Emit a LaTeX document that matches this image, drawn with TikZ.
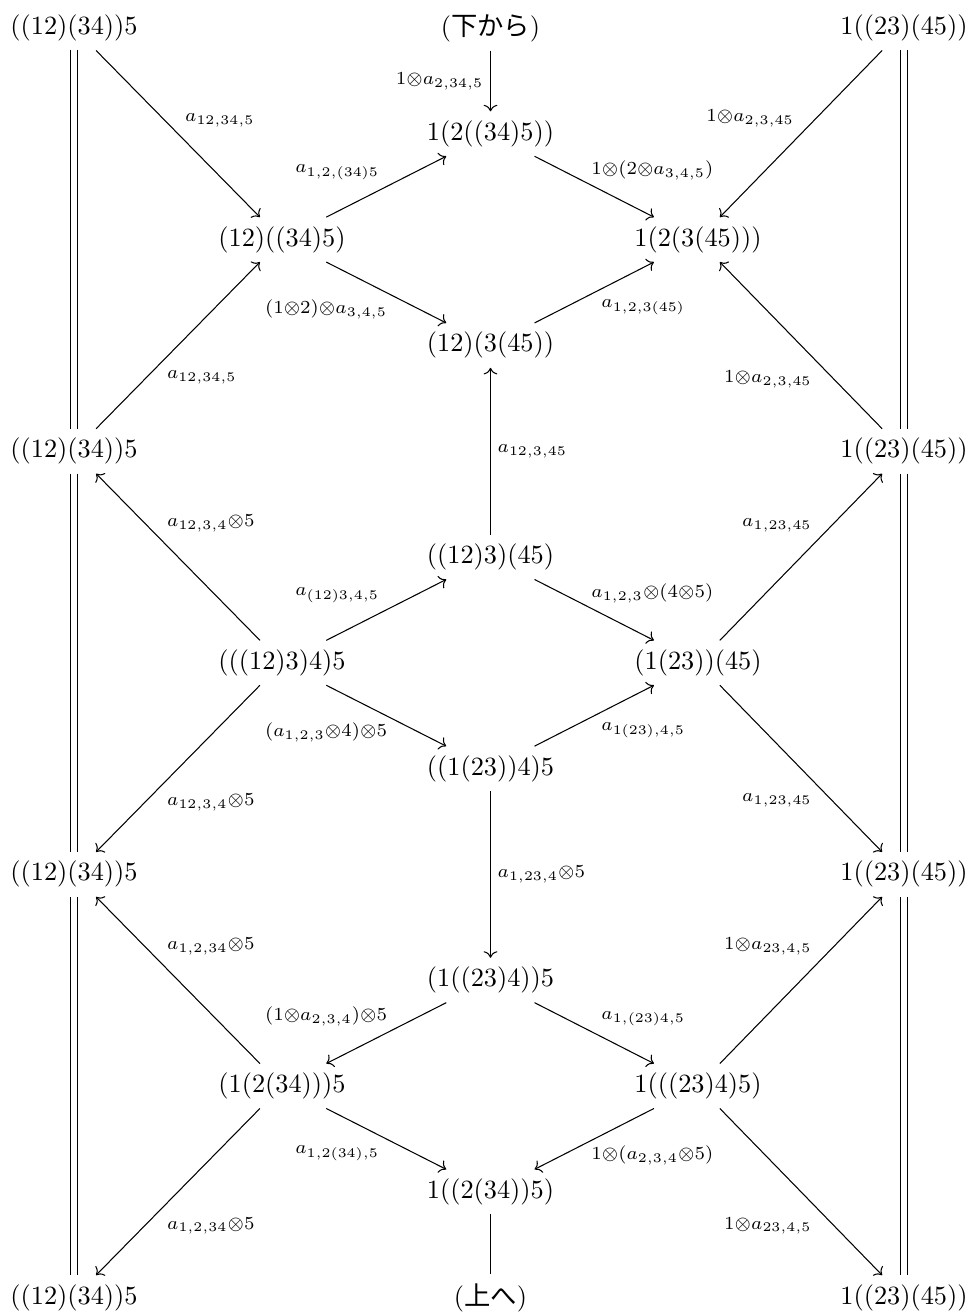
\documentclass[tikz,border=0pt]{standalone}
\usepackage{fontspec}
\newfontfamily\jp{Noto Sans CJK JP}
\usetikzlibrary{arrows.meta}
\begin{document}
\begin{tikzpicture}[x=0.38pt,y=-0.38pt,
  obj/.style={inner sep=3.333pt},
  arr/.style={-{Computer Modern Rightarrow}},
  eq/.style={double,double distance=2pt},
  lbl/.style={font=\scriptsize,inner sep=2.5pt}]
\useasboundingbox (0,0) rectangle (972,1316);
% nodes
\node[obj] (tl0) at (74,28) {((12)(34))5};
\node[obj] (tc)  at (490.5,28) {(\jp 下から\rm)};
\node[obj] (tr0) at (904,28) {1((23)(45))};
\node[obj] (n1)  at (490.5,133.8) {1(2((34)5))};
\node[obj] (n2)  at (282,239.6) {(12)((34)5)};
\node[obj] (n3)  at (698,239.6) {1(2(3(45)))};
\node[obj] (n4)  at (490.5,345.4) {(12)(3(45))};
\node[obj] (tl1) at (74,451.2) {((12)(34))5};
\node[obj] (tr1) at (904,451.2) {1((23)(45))};
\node[obj] (n5)  at (490.5,557) {((12)3)(45)};
\node[obj] (n6)  at (282,662.8) {(((12)3)4)5};
\node[obj] (n7)  at (698,662.8) {(1(23))(45)};
\node[obj] (n8)  at (490.5,768.6) {((1(23))4)5};
\node[obj] (tl2) at (74,874.4) {((12)(34))5};
\node[obj] (tr2) at (904,874.4) {1((23)(45))};
\node[obj] (n9)  at (490.5,980.2) {(1((23)4))5};
\node[obj] (n10) at (282,1086) {(1(2(34)))5};
\node[obj] (n11) at (698,1086) {1(((23)4)5)};
\node[obj] (n12) at (490.5,1191.8) {1((2(34))5)};
\node[obj] (tl3) at (74,1297.6) {((12)(34))5};
\node[obj] (bc)  at (490.5,1297.6) {(\jp 上へ\rm)};
\node[obj] (tr3) at (904,1297.6) {1((23)(45))};
% identities
\draw[eq] (tl0) -- (tl1);
\draw[eq] (tl1) -- (tl2);
\draw[eq] (tl2) -- (tl3);
\draw[eq] (tr0) -- (tr1);
\draw[eq] (tr1) -- (tr2);
\draw[eq] (tr2) -- (tr3);
% arrows
\draw[arr] (tl0) -- node[lbl,auto] {$a_{12,34,5}$} (n2);
\draw[arr] (n2) -- node[lbl,auto] {$a_{1,2,(34)5}$} (n1);
\draw[arr] (tc) -- node[lbl,auto,swap] {$1{\otimes}a_{2,34,5}$} (n1);
\draw[arr] (n1) -- node[lbl,auto,xshift=-3.8pt] {$1{\otimes}(2{\otimes}a_{3,4,5})$} (n3);
\draw[arr] (tr0) -- node[lbl,auto,swap] {$1{\otimes}a_{2,3,45}$} (n3);
\draw[arr] (n2) -- node[lbl,auto,swap,xshift=3pt] {$(1{\otimes}2){\otimes}a_{3,4,5}$} (n4);
\draw[arr] (n4) -- node[lbl,auto,swap] {$a_{1,2,3(45)}$} (n3);
\draw[arr] (tl1) -- node[lbl,auto,swap,pos=0.39] {$a_{12,34,5}$} (n2);
\draw[arr] (tr1) -- node[lbl,auto,pos=0.39] {$1{\otimes}a_{2,3,45}$} (n3);
\draw[arr] (n5) -- node[lbl,auto,swap] {$a_{12,3,45}$} (n4);
\draw[arr] (n6) -- node[lbl,auto,swap,pos=0.61] {$a_{12,3,4}{\otimes}5$} (tl1);
\draw[arr] (n7) -- node[lbl,auto,pos=0.61] {$a_{1,23,45}$} (tr1);
\draw[arr] (n6) -- node[lbl,auto] {$a_{(12)3,4,5}$} (n5);
\draw[arr] (n5) -- node[lbl,auto,xshift=-3.8pt] {$a_{1,2,3}{\otimes}(4{\otimes}5)$} (n7);
\draw[arr] (n6) -- node[lbl,auto,swap,xshift=3pt] {$(a_{1,2,3}{\otimes}4){\otimes}5$} (n8);
\draw[arr] (n8) -- node[lbl,auto,swap] {$a_{1(23),4,5}$} (n7);
\draw[arr] (n6) -- node[lbl,auto,pos=0.61] {$a_{12,3,4}{\otimes}5$} (tl2);
\draw[arr] (n7) -- node[lbl,auto,swap,pos=0.61] {$a_{1,23,45}$} (tr2);
\draw[arr] (n8) -- node[lbl,auto] {$a_{1,23,4}{\otimes}5$} (n9);
\draw[arr] (n10) -- node[lbl,auto,swap,pos=0.61] {$a_{1,2,34}{\otimes}5$} (tl2);
\draw[arr] (n11) -- node[lbl,auto,pos=0.61] {$1{\otimes}a_{23,4,5}$} (tr2);
\draw[arr] (n9) -- node[lbl,auto,swap,xshift=3pt] {$(1{\otimes}a_{2,3,4}){\otimes}5$} (n10);
\draw[arr] (n9) -- node[lbl,auto] {$a_{1,(23)4,5}$} (n11);
\draw[arr] (n10) -- node[lbl,auto,swap] {$a_{1,2(34),5}$} (n12);
\draw[arr] (n11) -- node[lbl,auto,xshift=-3.8pt] {$1{\otimes}(a_{2,3,4}{\otimes}5)$} (n12);
\draw[arr] (n10) -- node[lbl,auto,pos=0.61] {$a_{1,2,34}{\otimes}5$} (tl3);
\draw[arr] (n11) -- node[lbl,auto,swap,pos=0.61] {$1{\otimes}a_{23,4,5}$} (tr3);
\draw (n12) -- (bc);
\end{tikzpicture}
\end{document}
